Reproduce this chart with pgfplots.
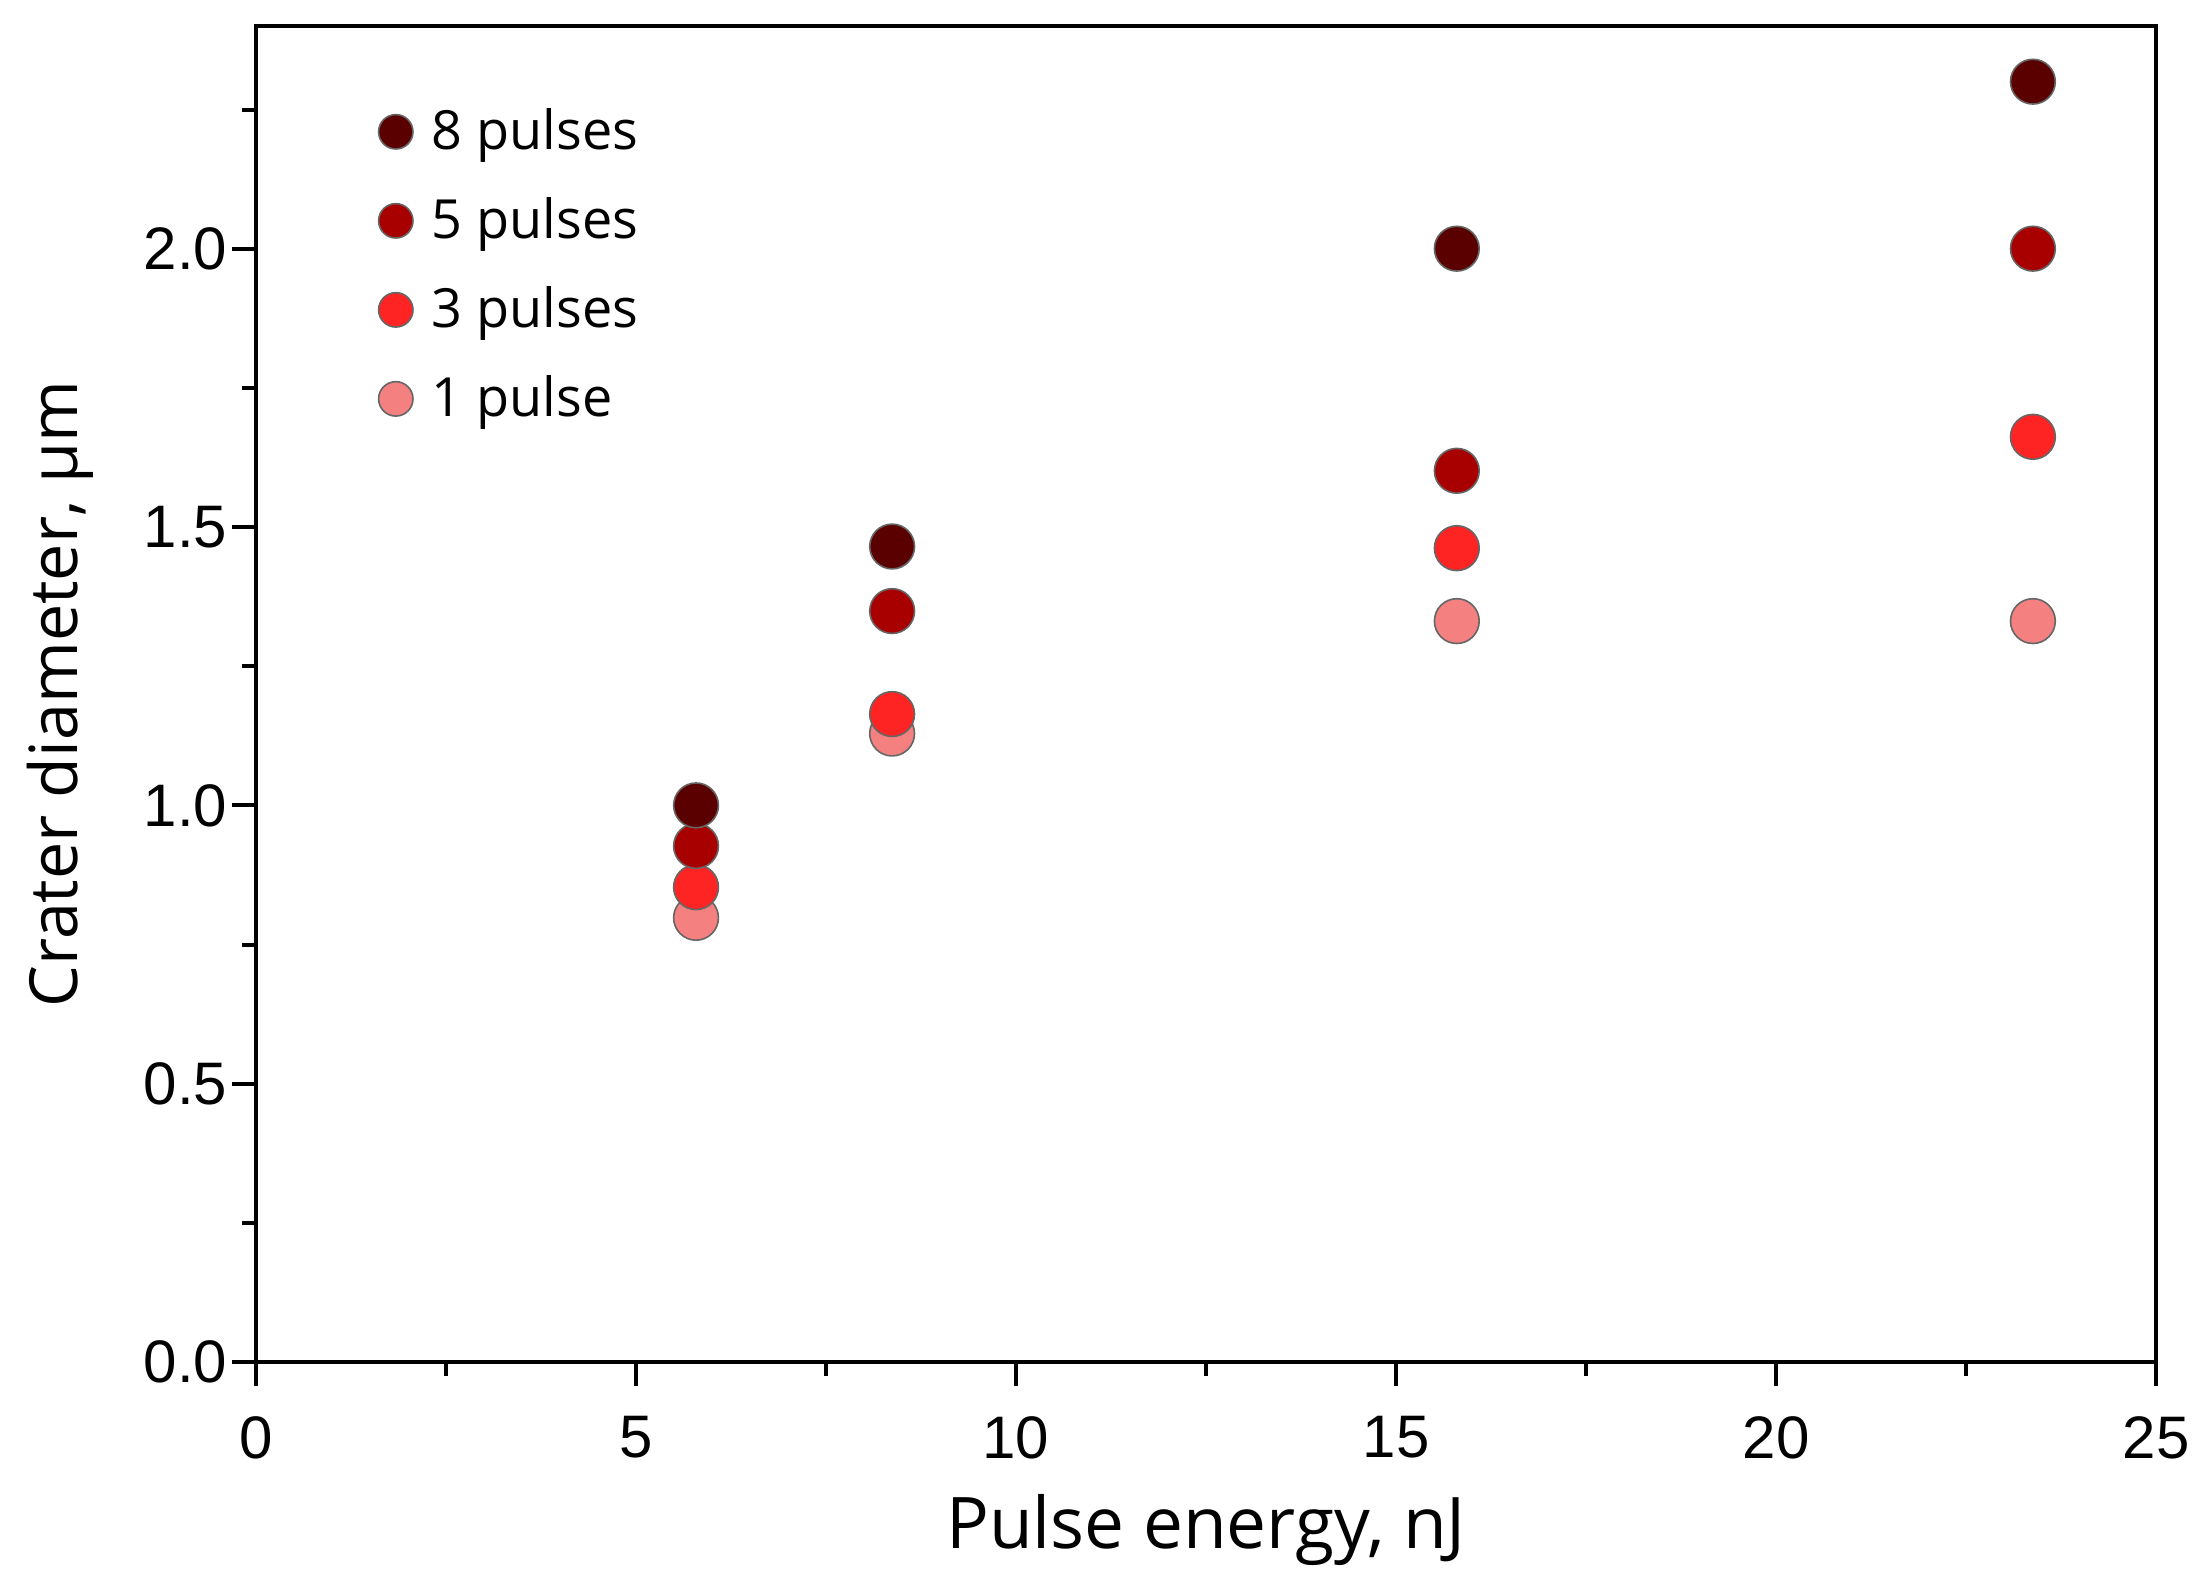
\documentclass[border=0pt]{standalone}
\usepackage{fontspec}
\setmainfont{Open Sans}
\newfontfamily\tickfont{Liberation Sans}
\usepackage{pgfplots}
\pgfplotsset{compat=1.18}
\definecolor{c8}{HTML}{5A0000}
\definecolor{c5}{HTML}{A80000}
\definecolor{c3}{HTML}{FF2424}
\definecolor{c1}{HTML}{F48080}
\begin{document}
\begin{tikzpicture}
\useasboundingbox (-64pt,-51.5pt) rectangle (487pt,340.5pt);
\begin{axis}[
  scale only axis,
  width=475pt, height=334pt,
  xmin=0, xmax=25, ymin=0, ymax=2.4,
  xtick={0,5,10,15,20,25},
  minor xtick={2.5,7.5,12.5,17.5,22.5},
  ytick={0,0.5,1.0,1.5,2.0},
  minor ytick={0.25,0.75,1.25,1.75,2.25},
  axis line style={line width=1pt},
  tick style={line width=1pt, black},
  major tick length=6pt, minor tick length=3.5pt,
  tick align=outside,
  xtick pos=bottom, ytick pos=left,
  /pgf/number format/assume math mode=true,
  ticklabel style={font=\tickfont\fontsize{15}{18}\selectfont},
  yticklabel style={/pgf/number format/fixed, /pgf/number format/fixed zerofill, /pgf/number format/precision=1, inner sep=1pt},
  xticklabel style={yshift=-4pt},
  xlabel={Pulse energy, nJ},
  ylabel={Crater diameter, μm},
  xlabel style={font=\fontsize{17.8}{20}\selectfont, yshift=-2pt},
  ylabel style={font=\fontsize{16.6}{20}\selectfont, yshift=8pt},
  legend style={draw=none, fill=none, at={(0.0641,0.945)}, anchor=north west,
    font=\fontsize{13.5}{16}\selectfont, row sep=6.5pt, inner sep=0pt,
    /tikz/every odd column/.append style={column sep=2.7pt}},
  legend image post style={mark size=4.3pt},
  legend cell align=left,
  reverse legend,
]
\addplot[only marks, mark=*, mark size=5.6pt, mark options={fill=c1, draw=black!60, line width=0.4pt}]
  coordinates {(5.79,0.798) (8.37,1.129) (15.80,1.331) (23.38,1.331)};
\addlegendentry{1 pulse}
\addplot[only marks, mark=*, mark size=5.6pt, mark options={fill=c3, draw=black!60, line width=0.4pt}]
  coordinates {(5.79,0.853) (8.37,1.164) (15.80,1.462) (23.38,1.662)};
\addlegendentry{3 pulses}
\addplot[only marks, mark=*, mark size=5.6pt, mark options={fill=c5, draw=black!60, line width=0.4pt}]
  coordinates {(5.79,0.927) (8.37,1.349) (15.80,1.601) (23.38,2.0)};
\addlegendentry{5 pulses}
\addplot[only marks, mark=*, mark size=5.6pt, mark options={fill=c8, draw=black!60, line width=0.4pt}]
  coordinates {(5.79,1.0) (8.37,1.465) (15.80,2.0) (23.38,2.30)};
\addlegendentry{8 pulses}
\end{axis}
\end{tikzpicture}
\end{document}
